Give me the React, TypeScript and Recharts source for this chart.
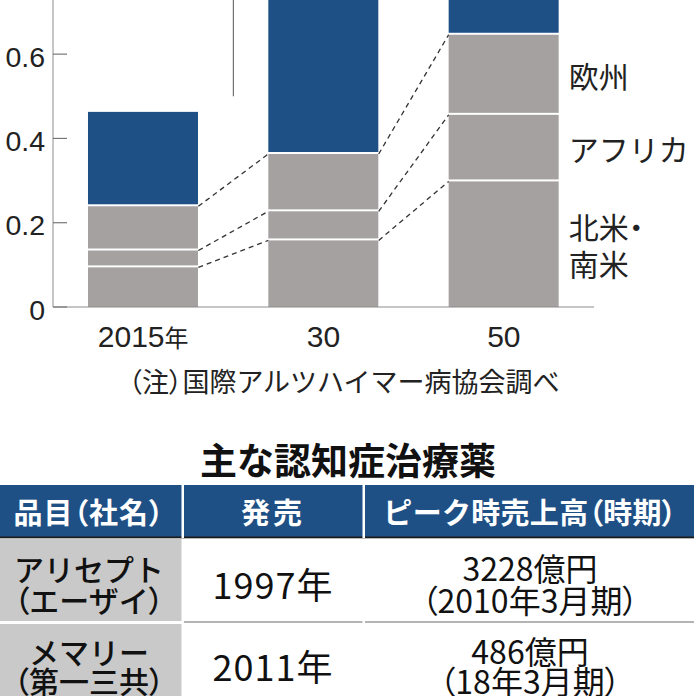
import React from "react";
import {
  ComposedChart,
  Bar,
  XAxis,
  YAxis,
  ReferenceLine,
  LabelList,
} from "recharts";

// 認知症の人の数（億人）. Asia for 30/50 runs off the top of the crop: estimated.
const years = ["2015年", "30", "50"];
const americas = [0.094, 0.158, 0.298];
const africa = [0.04, 0.069, 0.158];
const europe = [0.105, 0.136, 0.19];
const asia = [0.224, 0.384, 0.669];
// ticks above 0.6 fall outside the cropped picture
const yTicks = [0, 0.2, 0.4, 0.6];
const regionNames: Record<string, string[]> = {
  americas: ["北米・", "南米"],
  africa: ["アフリカ"],
  europe: ["欧州"],
};

const tableHead = ["品目（社名）", "発売", "ピーク時売上高（時期）"];
const drugs = [
  ["アリセプト", "（エーザイ）"],
  ["メマリー", "（第一三共）"],
];
const launch = ["1997年", "2011年"];
const peak = [
  ["3228億円", "（2010年3月期）"],
  ["486億円", "（18年3月期）"],
];

const data = years.map((year, i) => ({
  year,
  americas: americas[i],
  africa: africa[i],
  europe: europe[i],
  asia: asia[i],
}));

const BLUE = "#1e5086";
const GRAY = "#a4a1a0";
const NUM_FONT = "'Liberation Sans', Arial, sans-serif";
const JA_FONT = "'Noto Sans CJK JP', sans-serif";
const CAT_GAP = 0.194;
const W = 696;
const H = 650;
const MARGIN = { top: 0, right: 102, bottom: 0, left: 0 };
const Y_DOMAIN: [number, number] = [0, 1.4];

// stacked boundaries, used for the dashed connectors
const bounds = [
  americas,
  americas.map((v, i) => v + africa[i]),
  americas.map((v, i) => v + africa[i] + europe[i]),
];
const connectors = bounds.flatMap((b) =>
  [0, 1].map((i) => [
    { x: i + 1 - CAT_GAP, y: b[i] },
    { x: i + 1 + CAT_GAP, y: b[i + 1] },
  ])
);

// parens and the middle dot get proportional width like the print original
const ja = (s: string) =>
  s.split(/([（）・])/).filter(Boolean).map((part, k) =>
    part === "（" || part === "）" || part === "・" ? (
      <tspan key={k} style={{ fontFeatureSettings: '"palt"' }}>
        {part}
      </tspan>
    ) : (
      <tspan key={k}>{part}</tspan>
    )
  );

const segment = (gap: boolean) => (p: any) => (
  <rect
    x={p.x}
    y={p.y}
    width={p.width}
    height={Math.max(0, p.height - (gap ? 2 : 0))}
    fill={p.fill}
  />
);

const YTick = ({ x, y, payload }: any) => {
  const v = payload.value;
  return (
    <g>
      <line x1={x} x2={x + 14} y1={y} y2={y} stroke="#777" strokeWidth={1.2} />
      <text
        x={x - 8}
        y={y + 12.5}
        textAnchor="end"
        fontSize={28.5}
        fontFamily={NUM_FONT}
        fill="#222"
      >
        {v === 0 ? "0" : v.toFixed(1)}
      </text>
    </g>
  );
};

const XTick = ({ x, y, payload }: any) => {
  const m = String(payload.value).match(/^(\d+)(.*)$/) || ["", payload.value, ""];
  return (
    <text x={x} y={y + 40} textAnchor="middle" fill="#222" fontFamily={NUM_FONT}>
      <tspan fontSize={30}>{m[1]}</tspan>
      {m[2] ? (
        <tspan fontSize={24} fontFamily={JA_FONT}>
          {m[2]}
        </tspan>
      ) : null}
    </text>
  );
};

const regionLabel = (key: string) => (p: any) => {
  if (p.index !== years.length - 1) return null;
  const vb = p.viewBox || p;
  const lines = regionNames[key];
  const cx = vb.x + vb.width + 10;
  const cy = vb.y + vb.height / 2;
  return (
    <g>
      {lines.map((t, k) => (
        <text
          key={k}
          x={cx}
          y={cy + (k - (lines.length - 1) / 2) * 37}
          dominantBaseline="central"
          fontSize={30}
          fontFamily={JA_FONT}
          fill="#222"
        >
          {ja(t)}
        </text>
      ))}
    </g>
  );
};

function Chart() {
  return (
    <ComposedChart
      width={W}
      height={H}
      data={data}
      barCategoryGap={`${CAT_GAP * 100}%`}
      margin={MARGIN}
    >
      <XAxis
        dataKey="year"
        height={60}
        stroke="#8c8c8c"
        tickLine={false}
        tickSize={0}
        tickMargin={0}
        tick={<XTick />}
        interval={0}
      />
      <YAxis
        width={53}
        domain={Y_DOMAIN}
        ticks={yTicks}
        interval={0}
        stroke="#8c8c8c"
        tickLine={false}
        tickSize={0}
        tickMargin={0}
        tick={<YTick />}
      />
      <Bar dataKey="americas" stackId="s" fill={GRAY} shape={segment(false)} isAnimationActive={false}>
        <LabelList dataKey="americas" content={regionLabel("americas")} />
      </Bar>
      <Bar dataKey="africa" stackId="s" fill={GRAY} shape={segment(true)} isAnimationActive={false}>
        <LabelList dataKey="africa" content={regionLabel("africa")} />
      </Bar>
      <Bar dataKey="europe" stackId="s" fill={GRAY} shape={segment(true)} isAnimationActive={false}>
        <LabelList dataKey="europe" content={regionLabel("europe")} />
      </Bar>
      <Bar dataKey="asia" stackId="s" fill={BLUE} shape={segment(true)} isAnimationActive={false} />
    </ComposedChart>
  );
}

// same plot area on a numeric 0..3 x axis, so lines can meet the bar edges
function Connectors() {
  return (
    <ComposedChart width={W} height={H} margin={MARGIN} data={[{ x: 0 }, { x: 3 }]}>
      <XAxis
        dataKey="x"
        type="number"
        domain={[0, 3]}
        allowDataOverflow
        height={60}
        axisLine={false}
        tickLine={false}
        tick={false}
      />
      <YAxis width={53} domain={Y_DOMAIN} allowDataOverflow axisLine={false} tickLine={false} tick={false} />
      {connectors.map((seg, k) => (
        <ReferenceLine
          key={k}
          segment={seg}
          stroke="#333"
          strokeWidth={1.3}
          strokeDasharray="5 4"
          ifOverflow="visible"
        />
      ))}
      <ReferenceLine
        segment={[
          { x: 1, y: 0.5 },
          { x: 1, y: 1.4 },
        ]}
        stroke="#555"
        strokeWidth={1}
        ifOverflow="visible"
      />
    </ComposedChart>
  );
}

function Table() {
  const colX = [89, 273, 530];
  const rowTop = [539, 624];
  return (
    <svg width={696} height={696} style={{ position: "absolute", left: 0, top: 0 }}>
      <text
        x={344}
        y={380}
        textAnchor="middle"
        dominantBaseline="central"
        fontSize={27}
        fontFamily={JA_FONT}
        fill="#222"
      >
        {ja("（注）国際アルツハイマー病協会調べ")}
      </text>
      <text
        x={348}
        y={459}
        textAnchor="middle"
        dominantBaseline="central"
        fontSize={37}
        fontWeight={700}
        fontFamily={JA_FONT}
        fill="#111"
      >
        主な認知症治療薬
      </text>
      <rect x={0} y={485} width={694} height={52} fill={BLUE} />
      <rect x={0} y={536.5} width={694} height={1.8} fill="#1a1a1a" />
      <rect x={181.5} y={485} width={2.5} height={53} fill="#fff" />
      <rect x={362.5} y={485} width={2.5} height={53} fill="#fff" />
      {tableHead.map((h, k) => (
        <text
          key={h}
          x={colX[k]}
          y={510.5}
          textAnchor="middle"
          dominantBaseline="central"
          fontSize={29}
          fontWeight={700}
          letterSpacing={k === 1 ? 3 : k === 2 ? 0.3 : 1}
          fontFamily={JA_FONT}
          fill="#fff"
        >
          {ja(h)}
        </text>
      ))}
      <rect x={0} y={rowTop[0]} width={181.5} height={82} fill="#c9c9c9" />
      <rect x={0} y={rowTop[1]} width={181.5} height={72} fill="#c9c9c9" />
      <rect x={184} y={621} width={510} height={2} fill="#b4b4b4" />
      <rect x={362.5} y={620} width={2.5} height={4} fill="#fff" />
      {drugs.map((d, r) => {
        const mid = r === 0 ? 583 : 665;
        const half = r === 0 ? 15.5 : 14.5;
        return (
          <g key={d[0]}>
            {d.map((t, k) => (
              <text
                key={t}
                x={colX[0]}
                y={mid + (k === 0 ? -half : half)}
                textAnchor="middle"
                dominantBaseline="central"
                fontSize={30}
                fontWeight={500}
                fontFamily={JA_FONT}
                fill="#111"
              >
                {ja(t)}
              </text>
            ))}
            <text
              x={colX[1]}
              y={mid}
              textAnchor="middle"
              dominantBaseline="central"
              fontSize={36}
              letterSpacing={1}
              fontFamily={JA_FONT}
              fill="#111"
            >
              {launch[r]}
            </text>
            {peak[r].map((t, k) => (
              <text
                key={t}
                x={colX[2]}
                y={mid + (k === 0 ? -half - 1 : half)}
                textAnchor="middle"
                dominantBaseline="central"
                fontSize={32}
                fontFamily={JA_FONT}
                fill="#111"
              >
                {ja(t)}
              </text>
            ))}
          </g>
        );
      })}
    </svg>
  );
}

export default function App() {
  return (
    <div
      style={{
        position: "fixed",
        left: 0,
        top: 0,
        width: 696,
        height: 696,
        overflow: "hidden",
        background: "#fff",
      }}
    >
      <div style={{ position: "absolute", left: 0, top: -283 }}>
        <Chart />
      </div>
      <div style={{ position: "absolute", left: 0, top: -283 }}>
        <Connectors />
      </div>
      <Table />
    </div>
  );
}
